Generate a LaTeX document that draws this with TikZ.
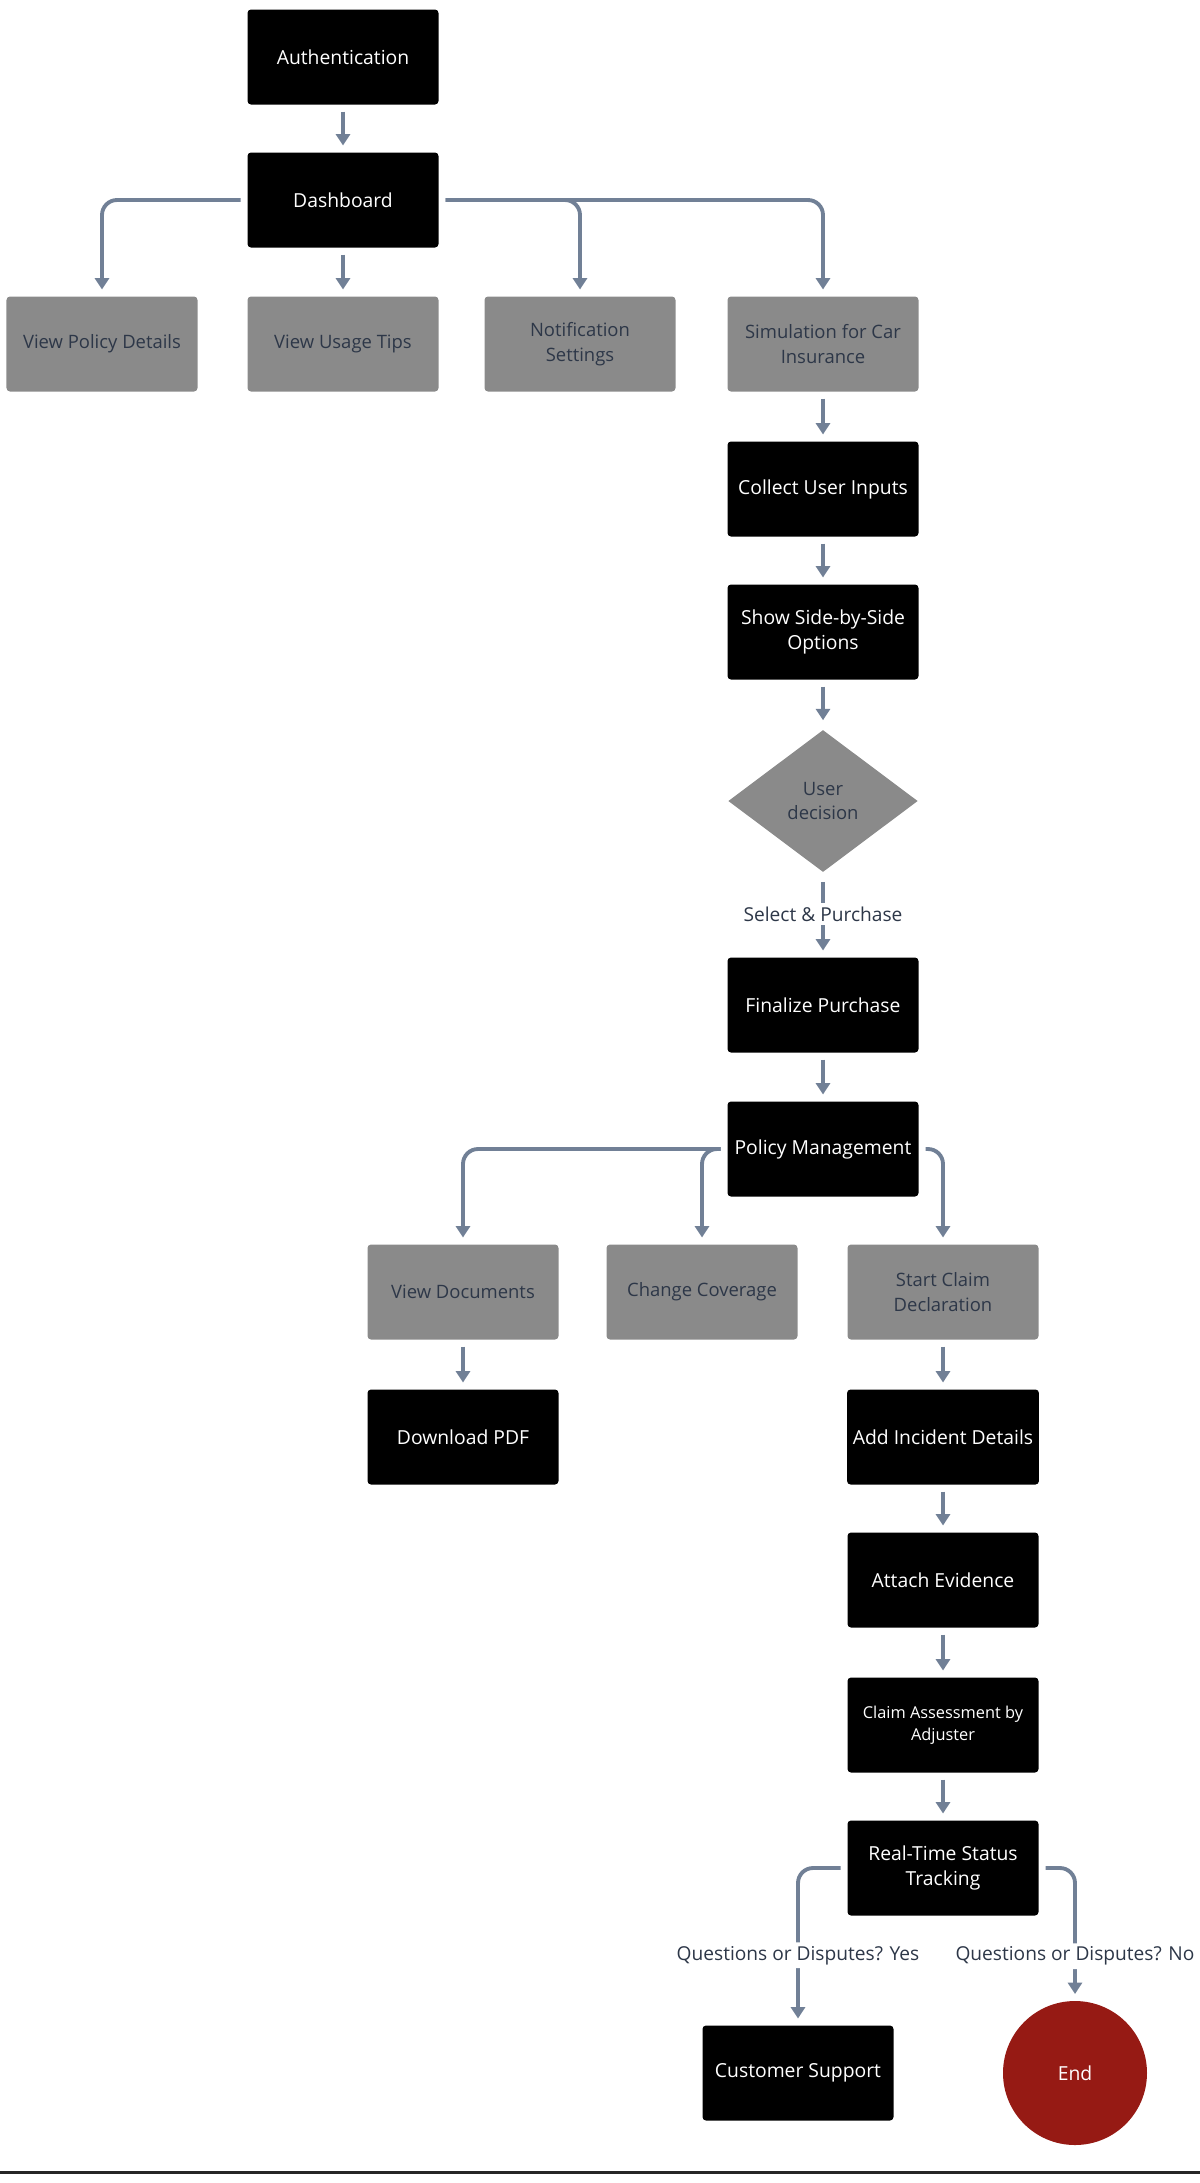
\documentclass[tikz,border=0pt]{standalone}
\usepackage{fontspec}
\setmainfont{Open Sans}
\usetikzlibrary{arrows.meta,shapes.geometric}
\definecolor{flowgray}{HTML}{718096}
\definecolor{boxgray}{HTML}{8A8A8A}
\definecolor{textslate}{HTML}{2D3748}
\definecolor{endred}{HTML}{961A14}

\begin{document}
\begin{tikzpicture}[font=\fontsize{11}{14.5}\selectfont, >={Triangle[width=8pt,length=6.5pt]},
    stepbox/.style={fill=black, text=white, rounded corners=2pt, minimum width=3.82cm,
      minimum height=1.9cm, align=center, outer sep=0.14cm},
    optbox/.style={stepbox, fill=boxgray, text=textslate, font=\fontsize{10.5}{14}\selectfont},
    flow/.style={->, draw=flowgray, line width=2.2pt, rounded corners=0.3cm},
    lbl/.style={fill=white, text=textslate, inner sep=2pt, font=\fontsize{10.9}{14}\selectfont}]
    \useasboundingbox (0,0) rectangle (24,-43.66);

    % top of the app
    \node[stepbox] (auth) at (6.86,-1.14) {Authentication};
    \node[stepbox] (dash) at (6.86,-4.0) {Dashboard};
    \node[optbox] (policy) at (2.04,-6.88) {View Policy Details};
    \node[optbox] (tips) at (6.86,-6.88) {View Usage Tips};
    \node[optbox] (notif) at (11.6,-6.88) {Notification\\Settings};
    \node[optbox] (sim) at (16.46,-6.88) {Simulation for Car\\Insurance};

    % simulation and purchase
    \node[stepbox] (inputs) at (16.46,-9.78) {Collect User Inputs};
    \node[stepbox] (compare) at (16.46,-12.64) {Show Side-by-Side\\Options};
    \node[shape=diamond, fill=boxgray, text=textslate, minimum width=3.9cm, minimum height=2.95cm,
      inner sep=0pt, aspect=1.35, align=center, outer sep=0.14cm,
      font=\fontsize{10.5}{13.5}\selectfont] (decision) at (16.46,-16.02) {User\\decision};
    \node[stepbox] (final) at (16.46,-20.1) {Finalize Purchase};
    \node[stepbox] (manage) at (16.46,-22.98) {Policy Management};

    % policy management
    \node[optbox] (docs) at (9.26,-25.84) {View Documents};
    \node[optbox] (cover) at (14.04,-25.84) {Change Coverage};
    \node[optbox] (claim) at (18.86,-25.84) {Start Claim\\Declaration};
    \node[stepbox] (pdf) at (9.26,-28.74) {Download PDF};
    \node[stepbox] (incident) at (18.86,-28.74) {Add Incident Details};
    \node[stepbox] (evidence) at (18.86,-31.6) {Attach Evidence};
    \node[stepbox, font=\fontsize{9.3}{12.5}\selectfont] (assess) at (18.86,-34.5) {Claim Assessment by\\Adjuster};
    \node[stepbox] (tracking) at (18.86,-37.36) {Real-Time Status\\Tracking};
    \node[stepbox] (support) at (15.96,-41.46) {Customer Support};
    \node[circle, fill=endred, text=white, minimum size=2.88cm, outer sep=0.14cm] (end) at (21.5,-41.46) {End};

    \draw[flow] (auth) -- (dash);
    \draw[flow] (dash.west) -| (policy.north);
    \draw[flow] (dash) -- (tips);
    \draw[flow] (dash.east) -| (notif.north);
    \draw[flow] (dash.east) -| (sim.north);
    \draw[flow] (sim) -- (inputs);
    \draw[flow] (inputs) -- (compare);
    \draw[flow] (compare) -- (decision);
    \draw[flow] (decision) -- (final) node[lbl, pos=0.47] {Select \& Purchase};
    \draw[flow] (final) -- (manage);
    \draw[flow] (manage.west) -| (docs.north);
    \draw[flow] (manage.west) -| (cover.north);
    \draw[flow] (manage.east) -| (claim.north);
    \draw[flow] (docs) -- (pdf);
    \draw[flow] (claim) -- (incident);
    \draw[flow] (incident) -- (evidence);
    \draw[flow] (evidence) -- (assess);
    \draw[flow] (assess) -- (tracking);
    \draw[flow] (tracking.west) -| (support.north) node[lbl, pos=0.79] {Questions or Disputes? Yes};
    \draw[flow] (tracking.east) -| (end.north) node[lbl, pos=0.85] {Questions or Disputes? No};

    \draw[line width=0.06cm, black!85] (0,-43.44) -- (24,-43.44);
  \end{tikzpicture}
\end{document}
